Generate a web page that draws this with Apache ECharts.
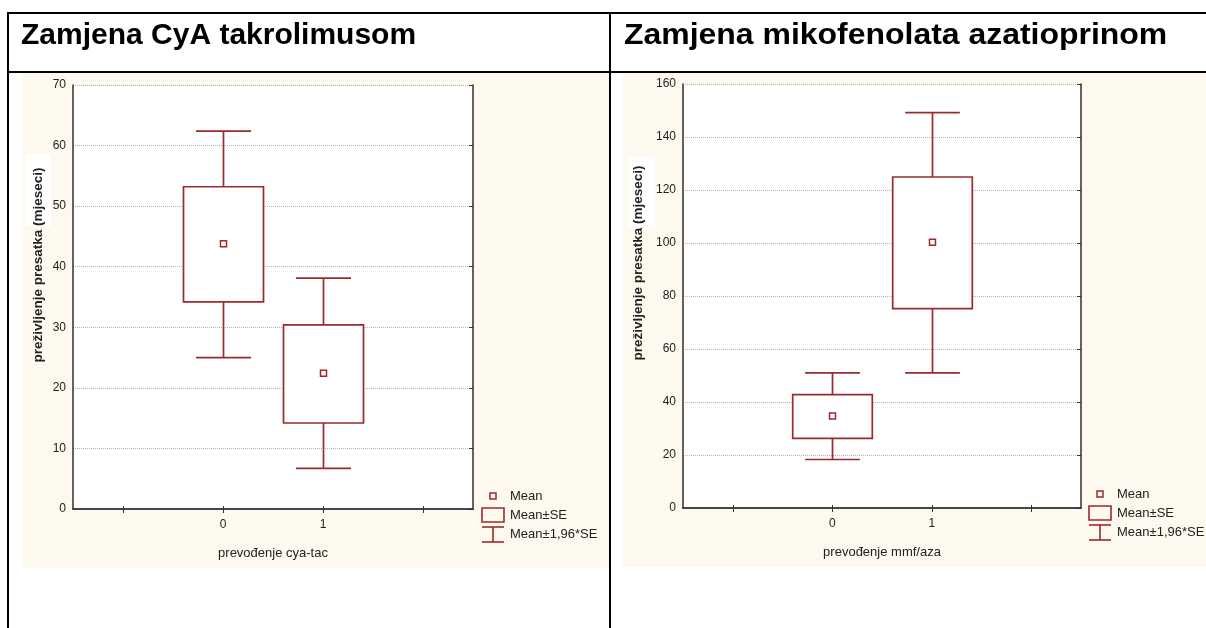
<!DOCTYPE html>
<html><head><meta charset="utf-8">
<script src="https://cdn.jsdelivr.net/npm/echarts@6/dist/echarts.min.js"></script>
<style>html,body{margin:0;padding:0;background:#fff;}#c{width:1206px;height:628px;}</style>
</head><body><div id="c"></div>
<script>
// ---- texts ----
const titleLeft = 'Zamjena CyA takrolimusom';
const titleRight = 'Zamjena mikofenolata azatioprinom';
const yName = 'preživljenje presatka (mjeseci)';
const xNameLeft = 'prevođenje cya-tac';
const xNameRight = 'prevođenje mmf/aza';
const legendLabels = ['Mean', 'Mean±SE', 'Mean±1,96*SE'];

// ---- categories (padded axis so groups sit at the 2nd and 3rd ticks) ----
const groups = ['0', '1'];
const axisCats = ['-1', '0', '1', '2'];

// ---- left chart: CyA -> takrolimus ----
const cyaMean   = [43.8, 22.4];
const cyaSeLow  = [34.2, 14.2];
const cyaSeHigh = [53.2, 30.4];
const cyaCiLow  = [25.0, 6.7];
const cyaCiHigh = [62.4, 38.1];
const cyaYMax = 70, cyaYStep = 10;

// ---- right chart: mikofenolat -> azatioprin ----
const mmfMean   = [34.7, 100.3];
const mmfSeLow  = [26.3, 75.2];
const mmfSeHigh = [42.8, 124.9];
const mmfCiLow  = [18.3, 51.0];
const mmfCiHigh = [51.0, 149.2];
const mmfYMax = 160, mmfYStep = 20;

const RED = '#9b2a2d';
const FONT = '"Liberation Sans", Arial, sans-serif';
const CREAM = '#fdf9ee';

function buildData(mean, seLo, seHi, ciLo, ciHi) {
  return groups.map((g, i) => [axisCats.indexOf(g), ciLo[i], seLo[i], mean[i], seHi[i], ciHi[i]]);
}

function renderBox(params, api) {
  const x = api.value(0);
  const band = api.size([1, 0])[0];
  const bw = band * 0.4, cw = band * 0.275;
  const pLo = api.coord([x, api.value(1)]);
  const pQ1 = api.coord([x, api.value(2)]);
  const pM  = api.coord([x, api.value(3)]);
  const pQ3 = api.coord([x, api.value(4)]);
  const pHi = api.coord([x, api.value(5)]);
  const cx = Math.round(pM[0]) + 0.5;
  const st = { stroke: RED, lineWidth: 1.7, fill: null };
  return {
    type: 'group',
    children: [
      { type: 'line', shape: { x1: cx, y1: pHi[1], x2: cx, y2: pQ3[1] }, style: st },
      { type: 'line', shape: { x1: cx, y1: pQ1[1], x2: cx, y2: pLo[1] }, style: st },
      { type: 'line', shape: { x1: cx - cw, y1: pHi[1], x2: cx + cw, y2: pHi[1] }, style: st },
      { type: 'line', shape: { x1: cx - cw, y1: pLo[1], x2: cx + cw, y2: pLo[1] }, style: st },
      { type: 'rect', shape: { x: cx - bw, y: pQ3[1], width: 2 * bw, height: pQ1[1] - pQ3[1] },
        style: { stroke: RED, lineWidth: 1.7, fill: '#fff' } },
      { type: 'rect', shape: { x: cx - 3, y: pM[1] - 3, width: 6, height: 6 },
        style: { stroke: RED, lineWidth: 1.5, fill: '#fff' } }
    ]
  };
}

function xAxes(gridIndex, name) {
  return [
    {
      type: 'category', gridIndex, data: axisCats, position: 'bottom',
      name, nameLocation: 'middle', nameGap: 38,
      nameTextStyle: { fontFamily: FONT, fontSize: 13, color: '#222' },
      axisLine: { show: true, lineStyle: { color: '#3c3c3c', width: 1.6 } },
      axisTick: { show: true, inside: true, alignWithLabel: true, interval: 0, length: 3, lineStyle: { color: '#333' } },
      axisLabel: { interval: 0, margin: 10, fontFamily: FONT, fontSize: 12, color: '#222',
        formatter: v => (groups.indexOf(v) >= 0 ? v : '') },
      splitLine: { show: false }
    },
    {
      type: 'category', gridIndex, data: axisCats, position: 'top',
      axisLine: { show: true, lineStyle: { color: '#3c3c3c', width: 1.6 } },
      axisTick: { show: true, inside: true, alignWithLabel: true, interval: 0, length: 4, lineStyle: { color: '#333' } },
      axisLabel: { show: false },
      splitLine: { show: false }
    }
  ];
}

function yAxes(gridIndex, max, step) {
  return [
    {
      type: 'value', gridIndex, min: 0, max, interval: step, position: 'left',
      axisLine: { show: true, lineStyle: { color: '#3c3c3c', width: 1.6 } },
      axisTick: { show: false },
      axisLabel: { margin: 7, fontFamily: FONT, fontSize: 12, color: '#222' },
      splitLine: { show: true, lineStyle: { type: 'dotted', color: '#b4b4b4', width: 1 } }
    },
    {
      type: 'value', gridIndex, min: 0, max, interval: step, position: 'right',
      axisLine: { show: true, lineStyle: { color: '#3c3c3c', width: 1.6 } },
      axisTick: { show: true, inside: true, length: 4, lineStyle: { color: '#333' } },
      axisLabel: { show: false },
      splitLine: { show: false }
    }
  ];
}

function legendGraphics(x0, y0) {
  const st = { stroke: RED, lineWidth: 1.6, fill: null };
  const tx = x0 + 28;
  const ts = (t, y) => ({ type: 'text', x: tx, y, style: { text: t, font: '13px ' + FONT, fill: '#222', textVerticalAlign: 'middle' } });
  return [
    { type: 'rect', shape: { x: x0 + 8, y: y0 - 3, width: 6, height: 6 }, style: { stroke: RED, lineWidth: 1.5, fill: CREAM } },
    ts(legendLabels[0], y0),
    { type: 'rect', shape: { x: x0, y: y0 + 12, width: 22, height: 14 }, style: st },
    ts(legendLabels[1], y0 + 19),
    { type: 'line', shape: { x1: x0, y1: y0 + 31, x2: x0 + 22, y2: y0 + 31 }, style: st },
    { type: 'line', shape: { x1: x0, y1: y0 + 46, x2: x0 + 22, y2: y0 + 46 }, style: st },
    { type: 'line', shape: { x1: x0 + 11, y1: y0 + 31, x2: x0 + 11, y2: y0 + 46 }, style: st },
    ts(legendLabels[2], y0 + 38)
  ];
}

function yTitle(cx, cy, bgX, bgY) {
  return [
    { type: 'rect', shape: { x: bgX, y: bgY, width: 26, height: 72 }, style: { fill: '#ffffff' } },
    { type: 'text', x: cx, y: cy, rotation: Math.PI / 2,
      style: { text: yName, font: 'bold 13.5px ' + FONT, fill: '#222', textAlign: 'center', textVerticalAlign: 'middle' } }
  ];
}

const graphics = [
  { type: 'rect', shape: { x: 22, y: 73, width: 587, height: 495 }, style: { fill: CREAM }, z: -10 },
  { type: 'rect', shape: { x: 623, y: 73, width: 583, height: 494 }, style: { fill: CREAM }, z: -10 },
  // table lines
  { type: 'line', shape: { x1: 7, y1: 13, x2: 1206, y2: 13 }, style: { stroke: '#000', lineWidth: 2 } },
  { type: 'line', shape: { x1: 7, y1: 72, x2: 1206, y2: 72 }, style: { stroke: '#000', lineWidth: 2 } },
  { type: 'line', shape: { x1: 8, y1: 12, x2: 8, y2: 628 }, style: { stroke: '#000', lineWidth: 2 } },
  { type: 'line', shape: { x1: 610, y1: 12, x2: 610, y2: 628 }, style: { stroke: '#000', lineWidth: 2 } },
  // header titles
  { type: 'text', x: 21, y: 36, style: { text: titleLeft, font: 'bold 30px ' + FONT, fill: '#000', textVerticalAlign: 'middle' } },
  { type: 'text', x: 624, y: 36, scaleX: 1.065, style: { text: titleRight, font: 'bold 30px ' + FONT, fill: '#000', textVerticalAlign: 'middle' } },
  ...yTitle(38, 265, 25, 154),
  ...yTitle(638, 263, 629, 157),
  ...legendGraphics(482, 496),
  ...legendGraphics(1089, 494)
];

const chart = echarts.init(document.getElementById('c'), null, { renderer: 'canvas' });
chart.setOption({
  animation: false,
  backgroundColor: '#ffffff',
  textStyle: { fontFamily: FONT },
  grid: [
    { left: 73, top: 85, width: 400, height: 424, show: true, backgroundColor: '#ffffff', borderWidth: 0 },
    { left: 683, top: 84, width: 398, height: 424, show: true, backgroundColor: '#ffffff', borderWidth: 0 }
  ],
  xAxis: [...xAxes(0, xNameLeft), ...xAxes(1, xNameRight)],
  yAxis: [...yAxes(0, cyaYMax, cyaYStep), ...yAxes(1, mmfYMax, mmfYStep)],
  series: [
    { type: 'custom', xAxisIndex: 0, yAxisIndex: 0, renderItem: renderBox,
      encode: { x: 0, y: [1, 2, 3, 4, 5] }, data: buildData(cyaMean, cyaSeLow, cyaSeHigh, cyaCiLow, cyaCiHigh), z: 3 },
    { type: 'custom', xAxisIndex: 2, yAxisIndex: 2, renderItem: renderBox,
      encode: { x: 0, y: [1, 2, 3, 4, 5] }, data: buildData(mmfMean, mmfSeLow, mmfSeHigh, mmfCiLow, mmfCiHigh), z: 3 }
  ],
  graphic: graphics
});
</script></body></html>
